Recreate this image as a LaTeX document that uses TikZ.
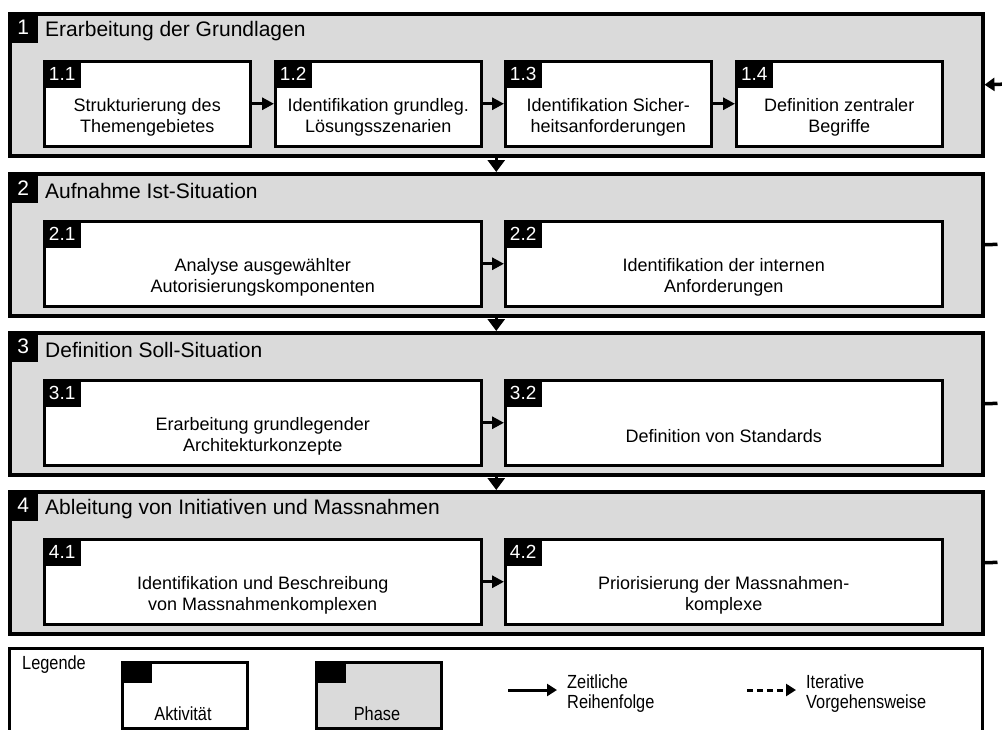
\documentclass[tikz,border=0pt]{standalone}
\usepackage{fontspec}
\setmainfont{Liberation Sans}
\newfontfamily\legendfont{Liberation Sans}[FakeStretch=0.86]
\usetikzlibrary{arrows.meta}
\definecolor{phasegray}{RGB}{218,218,218}

\begin{document}
\begin{tikzpicture}[x=1pt, y=-1pt,
  phase/.style={draw, line width=3.5pt, fill=phasegray, anchor=north west, inner sep=0pt,
    minimum width=973pt, minimum height=142pt},
  phasetag/.style={fill=black, text=white, anchor=north west, inner sep=0pt,
    minimum width=30pt, minimum height=31pt, font=\fontsize{21}{25}\selectfont},
  phasetitle/.style={anchor=west, inner sep=0pt, font=\fontsize{21}{25}\selectfont},
  activity/.style={draw, line width=2.5pt, fill=white, anchor=north west, inner sep=0pt,
    minimum height=85pt},
  acttag/.style={fill=black, text=white, anchor=north west, inner sep=0pt,
    minimum width=38pt, minimum height=28pt, font=\fontsize{19}{22}\selectfont},
  acttext/.style={align=center, inner sep=0pt, font=\fontsize{18}{21.5}\selectfont},
  next/.style={line width=3pt, -{Triangle[length=12pt, width=12pt]}},
  down/.style={line width=3pt, -{Triangle[length=12pt, width=17pt]}},
  iter/.style={line width=3.5pt, dash pattern=on 13pt off 5pt},
  legtext/.style={anchor=west, align=left, inner sep=0pt, font=\legendfont\fontsize{19}{20}\selectfont},
]
\useasboundingbox (0,0) rectangle (1002,729);
\clip (0,0) rectangle (1002,729);

% Phase 1
\node[phase] (p1) at (8,12) {};
\node[phasetag] (p1tag) at (p1.north west) {1};
\node[phasetitle] (p1title) at ([xshift=37pt, yshift=-19pt]p1.north west) {Erarbeitung der Grundlagen};
\node[activity, minimum width=206pt] (a11) at (43,60) {};
\node[activity, minimum width=206pt] (a12) at (274,60) {};
\node[activity, minimum width=206pt] (a13) at (504,60) {};
\node[activity, minimum width=206pt] (a14) at (735,60) {};
\node[acttag] (a11tag) at (a11.north west) {1.1};
\node[acttag] (a12tag) at (a12.north west) {1.2};
\node[acttag] (a13tag) at (a13.north west) {1.3};
\node[acttag] (a14tag) at (a14.north west) {1.4};
\node[acttext] (a11text) at ([yshift=-57.5pt]a11.north) {Strukturierung des\\Themengebietes};
\node[acttext] (a12text) at ([yshift=-57.5pt]a12.north) {Identifikation grundleg.\\Lösungsszenarien};
\node[acttext] (a13text) at ([yshift=-57.5pt]a13.north) {Identifikation Sicher-\\heitsanforderungen};
\node[acttext] (a14text) at ([yshift=-57.5pt]a14.north) {Definition zentraler\\Begriffe};
\draw[next] (a11) -- (a12);
\draw[next] (a12) -- (a13);
\draw[next] (a13) -- (a14);

% Phase 2
\node[phase] (p2) at (8,172) {};
\node[phasetag] (p2tag) at (p2.north west) {2};
\node[phasetitle] (p2title) at ([xshift=37pt, yshift=-19pt]p2.north west) {Aufnahme Ist-Situation};
\node[activity, minimum width=437pt] (a21) at (43,220) {};
\node[activity, minimum width=437pt] (a22) at (504,220) {};
\node[acttag] (a21tag) at (a21.north west) {2.1};
\node[acttag] (a22tag) at (a22.north west) {2.2};
\node[acttext] (a21text) at ([yshift=-57.5pt]a21.north) {Analyse ausgewählter\\Autorisierungskomponenten};
\node[acttext] (a22text) at ([yshift=-57.5pt]a22.north) {Identifikation der internen\\Anforderungen};
\draw[next] (a21) -- (a22);

% Phase 3
\node[phase] (p3) at (8,331) {};
\node[phasetag] (p3tag) at (p3.north west) {3};
\node[phasetitle] (p3title) at ([xshift=37pt, yshift=-19pt]p3.north west) {Definition Soll-Situation};
\node[activity, minimum width=437pt] (a31) at (43,379) {};
\node[activity, minimum width=437pt] (a32) at (504,379) {};
\node[acttag] (a31tag) at (a31.north west) {3.1};
\node[acttag] (a32tag) at (a32.north west) {3.2};
\node[acttext] (a31text) at ([yshift=-57.5pt]a31.north) {Erarbeitung grundlegender\\Architekturkonzepte};
\node[acttext] (a32text) at ([yshift=-57.5pt]a32.north) {Definition von Standards};
\draw[next] (a31) -- (a32);

% Phase 4
\node[phase] (p4) at (8,490) {};
\node[phasetag] (p4tag) at (p4.north west) {4};
\node[phasetitle] (p4title) at ([xshift=37pt, yshift=-19pt]p4.north west) {Ableitung von Initiativen und Massnahmen};
\node[activity, minimum width=437pt] (a41) at (43,538) {};
\node[activity, minimum width=437pt] (a42) at (504,538) {};
\node[acttag] (a41tag) at (a41.north west) {4.1};
\node[acttag] (a42tag) at (a42.north west) {4.2};
\node[acttext] (a41text) at ([yshift=-57.5pt]a41.north) {Identifikation und Beschreibung\\von Massnahmenkomplexen};
\node[acttext] (a42text) at ([yshift=-57.5pt]a42.north) {Priorisierung der Massnahmen-\\komplexe};
\draw[next] (a41) -- (a42);

% phase order
\draw[down] (p1) -- (p2);
\draw[down] (p2) -- (p3);
\draw[down] (p3) -- (p4);

% iteration back to phase 1 (runs past the right edge)
\coordinate (back1) at (1040,83);
\coordinate (back2) at (1040,243);
\coordinate (back3) at (1040,402);
\coordinate (back4) at (1040,561);
\draw[iter, {Triangle[length=10pt, width=13pt]}-] (p1.east) -- (back1);
\draw[iter] (p2.east) -- (back2);
\draw[iter] (p3.east) -- (back3);
\draw[iter, dash pattern=on 13pt off 9pt] (p4.east) -- (back4) -- (back1);

% Legende
\node[draw, line width=3pt, anchor=north west, inner sep=0pt, minimum width=973pt,
  minimum height=120pt] (legend) at (8,647) {};
\node[legtext] (legtitle) at (22,665) {Legende};
\node[activity, minimum width=125pt, minimum height=66pt] (legact) at (121,661) {};
\node[fill=black, anchor=north west, inner sep=0pt, minimum width=31pt, minimum height=22pt]
  (legacttag) at (legact.north west) {};
\node[legtext, anchor=center] (legacttext) at (183,714) {Aktivität};
\node[activity, fill=phasegray, minimum width=125pt, minimum height=66pt] (legphase) at (315,661) {};
\node[fill=black, anchor=north west, inner sep=0pt, minimum width=31pt, minimum height=22pt]
  (legphasetag) at (legphase.north west) {};
\node[legtext, anchor=center] (legphasetext) at (377,714) {Phase};
\coordinate (seqa) at (508,690);
\coordinate (seqb) at (557,690);
\draw[line width=3pt, -{Triangle[length=10pt, width=12pt]}] (seqa) -- (seqb);
\node[legtext] (seqtext) at (567,694) {Zeitliche\\Reihenfolge};
\coordinate (itera) at (747,690);
\coordinate (iterb) at (796,690);
\draw[line width=3pt, dash pattern=on 6pt off 4pt, -{Triangle[length=10pt, width=12pt]}] (itera) -- (iterb);
\node[legtext] (itertext) at (806,694) {Iterative\\Vorgehensweise};
\end{tikzpicture}
\end{document}
